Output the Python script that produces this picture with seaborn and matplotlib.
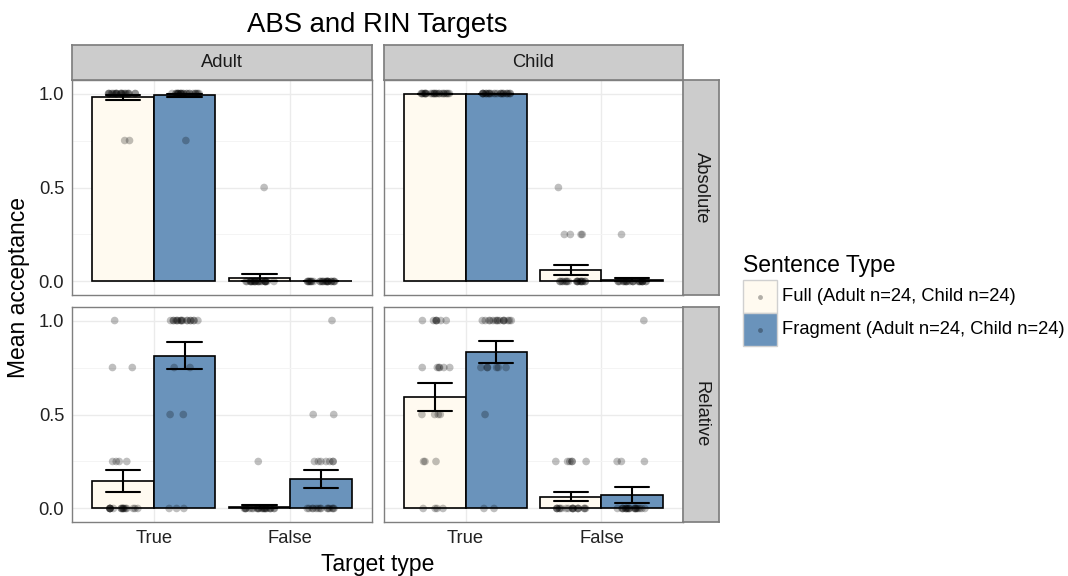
import numpy as np
import pandas as pd
import matplotlib
matplotlib.use("Agg")
import matplotlib.pyplot as plt
from matplotlib.patches import Rectangle
from matplotlib.lines import Line2D
import seaborn as sns

# ============================
# Data
# ============================
levels = [0.0, 0.25, 0.5, 0.75, 1.0]          # possible acceptance per participant
targets = ["True", "False"]
sentence_types = ["Full", "Fragment"]
ages = ["Adult", "Child"]
conditions = ["Absolute", "Relative"]
legend_labels = ["Full (Adult n=24, Child n=24)",
                 "Fragment (Adult n=24, Child n=24)"]

# participants at each level; cells: True/Full, True/Fragment, False/Full, False/Fragment
adult_absolute = [[0, 0, 0, 2, 22], [0, 0, 0, 1, 23], [23, 0, 1, 0, 0], [24, 0, 0, 0, 0]]
child_absolute = [[0, 0, 0, 0, 24], [0, 0, 0, 0, 24], [19, 4, 1, 0, 0], [23, 1, 0, 0, 0]]
adult_relative = [[17, 4, 0, 2, 1], [3, 0, 2, 2, 17], [23, 1, 0, 0, 0], [14, 7, 2, 0, 1]]
child_relative = [[4, 3, 4, 6, 7], [2, 0, 1, 6, 15], [18, 6, 0, 0, 0], [20, 3, 0, 0, 1]]

counts = {
    ("Adult", "Absolute"): adult_absolute,
    ("Child", "Absolute"): child_absolute,
    ("Adult", "Relative"): adult_relative,
    ("Child", "Relative"): child_relative,
}

rows = []
for (age, cond), cells in counts.items():
    i = 0
    for t in targets:
        for s in sentence_types:
            for lev, n in zip(levels, cells[i]):
                rows += [{"age": age, "condition": cond, "target": t,
                          "sentence": s, "acceptance": lev}] * n
            i += 1
df = pd.DataFrame(rows)

fills = {"Full": "#FFFAF0", "Fragment": "#6A93BB"}

# ============================
# Figure
# ============================
sns.set_theme(style="white")
plt.rcParams["font.family"] = ["Liberation Sans", "DejaVu Sans"]
np.random.seed(3)

W, H = 1068, 576
fig = plt.figure(figsize=(W / 100, H / 100), dpi=100)


def px(x0, y0, x1, y1):
    return [x0 / W, 1 - y1 / H, (x1 - x0) / W, (y1 - y0) / H]


col_x = [(72, 372), (384, 683)]
row_y = [(80, 295), (307, 522)]
grey50 = "#7F7F7F"

for r, cond in enumerate(conditions):
    for c, age in enumerate(ages):
        x0, x1 = col_x[c]
        y0, y1 = row_y[r]
        ax = fig.add_axes(px(x0, y0, x1, y1))
        sub = df[(df.age == age) & (df.condition == cond)]

        sns.barplot(data=sub, x="target", y="acceptance", hue="sentence",
                    order=targets, hue_order=sentence_types, palette=fills,
                    saturation=1, width=0.9, errorbar="se", capsize=0.5,
                    edgecolor="black", linewidth=1.2,
                    err_kws={"color": "black", "linewidth": 1.5},
                    legend=False, ax=ax)
        n_before = len(ax.collections)
        sns.stripplot(data=sub, x="target", y="acceptance", hue="sentence",
                      order=targets, hue_order=sentence_types,
                      palette={"Full": "black", "Fragment": "black"},
                      dodge=True, jitter=0.2, size=5.5, alpha=0.25,
                      linewidth=0, legend=False, ax=ax)
        # line the dodged points up with the wider bars
        for coll in ax.collections[n_before:]:
            off = np.array(coll.get_offsets())
            if len(off):
                ctr = np.round(off[:, 0])
                off[:, 0] = ctr + (off[:, 0] - ctr) * 1.125
                coll.set_offsets(off)

        ax.set_xlim(-0.6, 1.6)
        ax.set_ylim(-0.072, 1.072)
        ax.set_xlabel("")
        ax.set_ylabel("")
        ax.set_yticks([0, 0.5, 1.0])
        ax.set_yticks([0.25, 0.75], minor=True)
        ax.set_yticklabels(["0.0", "0.5", "1.0"])
        ax.grid(which="major", color="#EBEBEB", linewidth=1.0)
        ax.grid(which="minor", axis="y", color="#F4F4F4", linewidth=0.7)
        ax.set_axisbelow(True)
        for sp in ax.spines.values():
            sp.set_color(grey50)
            sp.set_linewidth(1.0)
        ax.tick_params(which="major", length=3.6, width=0.9, color="#333333",
                       labelsize=13.2, labelcolor="#222222", pad=2)
        ax.tick_params(which="minor", length=0)
        if c != 0:
            ax.tick_params(axis="y", left=False, labelleft=False)
        if r != len(conditions) - 1:
            ax.tick_params(axis="x", bottom=False, labelbottom=False)

        # facet strips
        if r == 0:
            sx = fig.add_axes(px(x0, 45, x1, y0))
            sx.set_facecolor("#CCCCCC")
            sx.set_xticks([])
            sx.set_yticks([])
            for sp in sx.spines.values():
                sp.set_color(grey50)
            sx.text(0.5, 0.5, age, ha="center", va="center", fontsize=13.2,
                    color="#1A1A1A", transform=sx.transAxes)
        if c == len(ages) - 1:
            sy = fig.add_axes(px(x1, y0, 719, y1))
            sy.set_facecolor("#CCCCCC")
            sy.set_xticks([])
            sy.set_yticks([])
            for sp in sy.spines.values():
                sp.set_color(grey50)
            sy.text(0.5, 0.5, cond, ha="center", va="center", fontsize=13.2,
                    rotation=270, color="#1A1A1A", transform=sy.transAxes)

fig.text(377.5 / W, 1 - 32 / H, "ABS and RIN Targets", ha="center",
         va="baseline", fontsize=19.8, color="black")
fig.text(19 / W, 1 - 288 / H, "Mean acceptance", rotation=90, ha="center",
         va="center", fontsize=16.5, color="black")
fig.text(377.5 / W, 1 - 571 / H, "Target type", ha="center", va="baseline",
         fontsize=16.5, color="black")

# legend (keys drawn as full-height squares like ggplot)
fig.text(743 / W, 1 - 272 / H, "Sentence Type", ha="left", va="baseline",
         fontsize=16.5, color="black")
key_top = 280
for k, s in enumerate(sentence_types):
    ky0 = key_top + k * 33
    fig.add_artist(Rectangle((743 / W, 1 - (ky0 + 33) / H), 34 / W, 33 / H,
                             transform=fig.transFigure, facecolor=fills[s],
                             edgecolor="#D0D0D0", linewidth=1.0))
    fig.add_artist(Line2D([760 / W], [1 - (ky0 + 16.5) / H], marker="o",
                          ls="", color="black", alpha=0.3, markersize=3.5,
                          markeredgewidth=0, transform=fig.transFigure))
    fig.text(782 / W, 1 - (ky0 + 16.5) / H, legend_labels[k], ha="left",
             va="center", fontsize=13.2, color="black")

fig.savefig("out.png", dpi=100)
